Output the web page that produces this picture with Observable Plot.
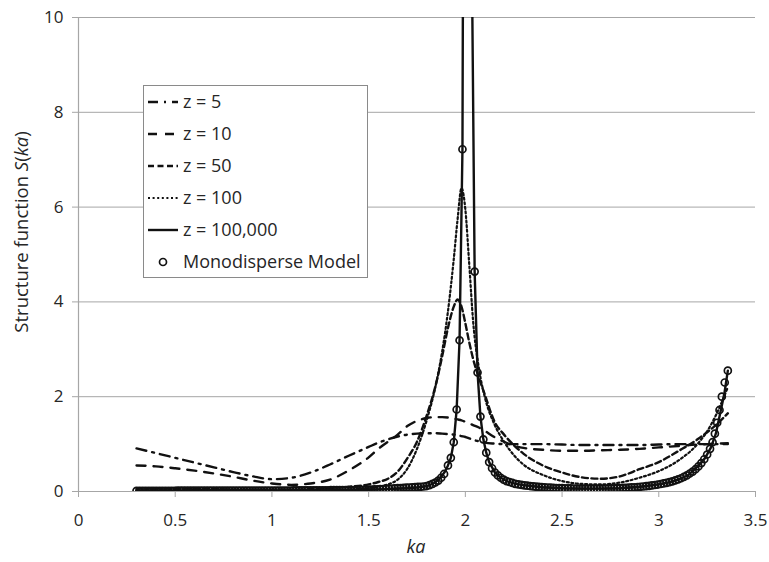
<!DOCTYPE html>
<html><head><meta charset="utf-8">
<script src="https://cdn.jsdelivr.net/npm/d3@7"></script>
<script src="https://cdn.jsdelivr.net/npm/@observablehq/plot@0.6"></script>
<style>
html,body{margin:0;padding:0;background:#fff;}
#chart{position:relative;width:769px;height:562px;}
</style></head>
<body><div id="chart"></div>
<script>
// ---- data ----
const xTicks = [0, 0.5, 1, 1.5, 2, 2.5, 3, 3.5];
const yTicks = [0, 2, 4, 6, 8, 10];
const seriesNames = ["z = 5", "z = 10", "z = 50", "z = 100", "z = 100,000", "Monodisperse Model"];

// ka grid for the polydisperse curves
const kaZ = [0.3,0.4,0.5,0.6,0.7,0.8,0.9,1.0,1.1,1.2,1.3,1.4,1.5,1.55,1.6,1.65,1.7,1.75,1.8,1.85,1.88,1.91,1.94,1.96,1.98,2.0,2.02,2.04,2.07,2.1,2.15,2.2,2.25,2.3,2.4,2.5,2.6,2.7,2.8,2.9,3.0,3.1,3.2,3.25,3.3,3.357];
const sZ5 = [0.91,0.81,0.71,0.61,0.51,0.41,0.32,0.26,0.29,0.4,0.57,0.76,0.94,1.03,1.1,1.16,1.2,1.22,1.23,1.23,1.22,1.21,1.2,1.19,1.17,1.15,1.12,1.09,1.06,1.03,1.01,1.0,1.0,1.0,1.0,0.99,0.98,0.98,0.98,0.98,0.99,1.0,1.0,1.0,1.0,1.0];
const sZ10 = [0.55,0.53,0.49,0.44,0.38,0.31,0.23,0.17,0.14,0.17,0.25,0.45,0.72,0.9,1.05,1.2,1.38,1.49,1.55,1.57,1.57,1.56,1.54,1.52,1.5,1.47,1.44,1.4,1.35,1.28,1.15,1.05,0.97,0.92,0.88,0.86,0.86,0.87,0.88,0.9,0.93,0.96,0.99,1.0,1.01,1.02];
const sZ50 = [0.07,0.06,0.06,0.05,0.05,0.04,0.04,0.04,0.04,0.05,0.07,0.1,0.15,0.2,0.27,0.42,0.7,1.05,1.6,2.3,2.85,3.45,3.9,4.05,3.9,3.55,3.15,2.8,2.4,2.05,1.48,1.2,0.98,0.8,0.55,0.4,0.3,0.27,0.32,0.47,0.62,0.85,1.1,1.25,1.42,1.65];
const sZ100 = [0.03,0.03,0.03,0.03,0.03,0.03,0.03,0.03,0.03,0.03,0.035,0.045,0.07,0.1,0.15,0.25,0.48,0.9,1.5,2.3,2.95,3.8,4.9,5.75,6.4,5.95,4.8,3.6,2.6,2.0,1.42,1.05,0.77,0.57,0.35,0.22,0.16,0.15,0.19,0.29,0.43,0.65,1.0,1.27,1.65,2.2];

// z = 100,000 (solid line)
const kaZ100k = [0.3,0.5,0.7,0.9,1.1,1.3,1.5,1.6,1.7,1.75,1.8,1.835,1.865,1.895,1.91,1.925,1.94,1.955,1.97,1.985,2.0,2.017,2.033,2.048,2.063,2.078,2.093,2.108,2.123,2.153,2.183,2.213,2.258,2.3,2.4,2.5,2.6,2.7,2.8,2.9,3.0,3.05,3.1,3.15,3.2,3.24,3.27,3.295,3.32,3.34,3.357];
const sZ100k = [0.015,0.018,0.018,0.02,0.02,0.028,0.038,0.05,0.07,0.085,0.11,0.17,0.26,0.42,0.55,0.71,1.04,1.73,3.19,7.22,28,26,11.5,4.64,2.51,1.58,1.1,0.82,0.62,0.4,0.29,0.22,0.16,0.135,0.09,0.07,0.06,0.06,0.07,0.1,0.15,0.19,0.25,0.34,0.52,0.71,0.93,1.22,1.7,2.09,2.55];

// Monodisperse model (markers), dense sampling
const kaMono = [
  0.300,0.315,0.330,0.345,0.360,0.375,0.390,0.405,0.420,0.435,0.450,0.465,0.480,0.495,
  0.510,0.525,0.540,0.555,0.570,0.585,0.600,0.615,0.630,0.645,0.660,0.675,0.690,0.705,0.720,0.735,0.750,0.765,0.780,0.795,
  0.810,0.825,0.840,0.855,0.870,0.885,0.900,0.915,0.930,0.945,0.960,0.975,0.990,1.005,1.020,1.035,1.050,1.065,1.080,1.095,
  1.110,1.125,1.140,1.155,1.170,1.185,1.200,1.215,1.230,1.245,1.260,1.275,1.290,
  1.305,1.320,1.335,1.350,1.365,1.380,1.395,1.410,1.425,1.440,
  1.455,1.470,1.485,1.500,1.515,1.530,
  1.545,1.560,1.575,1.590,1.605,1.620,1.635,1.650,1.665,1.680,1.695,1.710,1.725,1.740,1.755,1.770,
  1.785,1.800,1.815,1.830,1.845,1.860,1.875,1.890,1.910,1.925,1.940,1.955,1.970,1.985,2.000,2.017,2.033,2.048,2.063,2.078,2.093,2.108,2.123,2.138,2.153,2.168,2.183,2.198,2.213,2.228,2.243,2.258,2.274,
  2.290,2.305,2.320,2.335,2.350,2.365,2.380,2.395,2.410,2.425,2.440,2.455,2.470,2.485,2.500,2.515,2.530,2.545,2.560,2.575,2.590,2.605,2.620,2.635,2.650,2.665,2.680,2.695,2.710,2.725,2.740,2.755,2.770,2.785,2.800,2.815,2.830,2.845,2.860,2.875,2.890,2.905,2.920,2.935,2.950,2.965,2.980,2.995,3.010,3.025,3.040,3.055,3.070,
  3.085,3.100,3.115,3.130,3.145,3.160,3.175,3.190,3.205,3.220,3.235,3.250,3.265,3.278,3.290,3.302,3.314,3.326,3.341,3.357];
const sMono = [
  0.015,0.015,0.015,0.015,0.015,0.015,0.015,0.015,0.015,0.015,0.015,0.015,0.015,0.015,
  0.018,0.018,0.018,0.018,0.018,0.018,0.018,0.018,0.018,0.018,0.018,0.018,0.018,0.018,0.018,0.018,0.018,0.018,0.018,0.018,
  0.02,0.02,0.02,0.02,0.02,0.02,0.02,0.02,0.02,0.02,0.02,0.02,0.02,0.02,0.02,0.02,0.02,0.02,0.02,0.02,
  0.025,0.025,0.025,0.025,0.025,0.025,0.025,0.025,0.025,0.025,0.025,0.025,0.025,
  0.03,0.03,0.03,0.03,0.03,0.03,0.03,0.03,0.03,0.03,
  0.035,0.035,0.04,0.04,0.04,0.045,
  0.047,0.05,0.053,0.056,0.06,0.063,0.066,0.07,0.073,0.077,0.08,0.084,0.088,0.092,0.096,0.1,
  0.105,0.115,0.135,0.16,0.19,0.23,0.29,0.37,0.55,0.71,1.04,1.73,3.19,7.22,28,26,11.5,4.64,2.51,1.58,1.1,0.82,0.62,0.49,0.4,0.34,0.29,0.25,0.22,0.2,0.18,0.16,0.15,
  0.14,0.13,0.122,0.115,0.108,0.102,0.097,0.092,0.088,0.084,0.08,0.077,0.074,0.072,0.07,0.068,0.066,0.064,0.063,0.062,0.061,0.06,0.06,0.06,0.06,0.06,0.06,0.061,0.062,0.063,0.064,0.066,0.068,0.07,0.072,0.075,0.078,0.082,0.086,0.09,0.095,0.1,0.106,0.113,0.12,0.128,0.137,0.147,0.158,0.17,0.183,0.198,0.215,
  0.235,0.255,0.28,0.31,0.34,0.38,0.42,0.47,0.53,0.6,0.68,0.78,0.9,1.04,1.22,1.45,1.72,2.0,2.3,2.55];

// ---- build tables ----
const toRows = (ka, s) => ka.map((k, i) => ({ka: k, S: s[i]}));
const styles = [
  {name: seriesNames[0], rows: toRows(kaZ, sZ5), dash: "10,6,2,6", width: 2.4, curve: "monotone-x"},
  {name: seriesNames[1], rows: toRows(kaZ, sZ10), dash: "9,8", width: 2.4, curve: "monotone-x"},
  {name: seriesNames[2], rows: toRows(kaZ, sZ50), dash: "6,3.5", width: 2.4, curve: "monotone-x"},
  {name: seriesNames[3], rows: toRows(kaZ, sZ100), dash: "2,2.6", width: 2.2, curve: "monotone-x"},
  {name: seriesNames[4], rows: toRows(kaZ100k, sZ100k), dash: null, width: 2.4, curve: "linear"}
];
const monoRows = toRows(kaMono, sMono);

const INK = "#111";
const GRID = "#a6a6a6";
const TXT = "#262626";
const FONT = "'Open Sans', sans-serif";

const lineMarks = styles.map(s => Plot.line(s.rows, {
  x: "ka", y: "S", stroke: INK, strokeWidth: s.width,
  strokeDasharray: s.dash || undefined, curve: s.curve, clip: true
}));

const svg = Plot.plot({
  width: 769, height: 562,
  marginLeft: 78, marginRight: 14, marginTop: 17, marginBottom: 71,
  style: {fontFamily: FONT, fontSize: "17px", background: "#fff", color: TXT},
  x: {domain: [0, 3.5]},
  y: {domain: [0, 10]},
  marks: [
    Plot.ruleY(yTicks.filter(d => d > 0), {stroke: GRID, strokeWidth: 1}),
    Plot.ruleY([0], {stroke: GRID, strokeWidth: 1.2}),
    Plot.ruleX([0], {stroke: GRID, strokeWidth: 1.2}),
    Plot.axisX({ticks: xTicks, tickFormat: d => String(d), tickSize: 6, tickPadding: 16, stroke: GRID, fill: TXT, label: null}),
    Plot.axisY({ticks: yTicks, tickFormat: d => String(d), tickSize: 6, tickPadding: 9, stroke: GRID, fill: TXT, label: null}),
    ...lineMarks,
    Plot.dot(monoRows, {x: "ka", y: "S", r: 3.5, stroke: INK, strokeWidth: 1.7, fill: "none", clip: true})
  ]
});

const root = d3.select(svg);
// axis titles
root.append("text").attr("x", 416).attr("y", 553).attr("text-anchor", "middle")
  .attr("fill", TXT).style("font-family", FONT).style("font-size", "18px").style("font-style", "italic").text("ka");
const yl = root.append("text").attr("transform", "translate(28,232) rotate(-90)").attr("text-anchor", "middle")
  .attr("fill", TXT).style("font-family", FONT).style("font-size", "18.5px");
yl.append("tspan").text("Structure function ");
yl.append("tspan").style("font-style", "italic").text("S");
yl.append("tspan").text("(");
yl.append("tspan").style("font-style", "italic").text("ka");
yl.append("tspan").text(")");

// legend
const lg = root.append("g").attr("text-anchor", "start");
lg.append("rect").attr("x", 143.5).attr("y", 85.5).attr("width", 224).attr("height", 192)
  .attr("fill", "#fff").attr("stroke", "#8a8a8a").attr("stroke-width", 1);
const rowY = [102, 134, 166, 198, 230, 262];
styles.forEach((s, i) => {
  lg.append("line").attr("x1", 148).attr("x2", 178).attr("y1", rowY[i]).attr("y2", rowY[i])
    .attr("stroke", INK).attr("stroke-width", s.width).attr("stroke-dasharray", s.dash || null);
  lg.append("text").attr("x", 183).attr("y", rowY[i]).attr("dy", "0.35em").attr("fill", TXT)
    .attr("text-anchor", "start").style("font-family", FONT).style("font-size", "18px").text(s.name);
});
lg.append("circle").attr("cx", 163).attr("cy", rowY[5]).attr("r", 3.5).attr("fill", "none")
  .attr("stroke", INK).attr("stroke-width", 1.7);
lg.append("text").attr("x", 183).attr("y", rowY[5]).attr("dy", "0.35em").attr("fill", TXT)
  .attr("text-anchor", "start").style("font-family", FONT).style("font-size", "18px").text(seriesNames[5]);

document.getElementById("chart").appendChild(svg);
</script>
</body></html>
